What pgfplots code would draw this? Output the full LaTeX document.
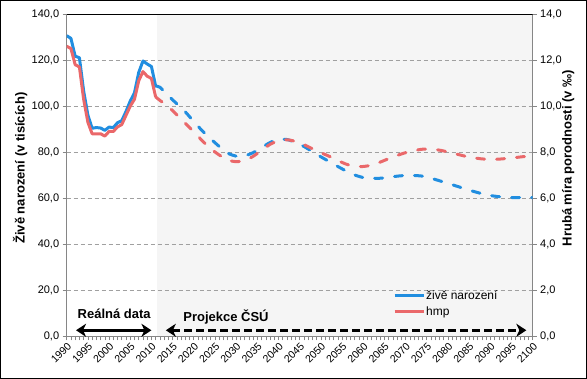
\documentclass[border=0pt]{standalone}
\usepackage{pgfplots}
\pgfplotsset{compat=1.18}
\usepackage{fontspec}
\setmainfont{Liberation Sans}
\usetikzlibrary{arrows.meta}
\definecolor{cblue}{RGB}{33,142,224}
\definecolor{cred}{RGB}{234,104,106}
\definecolor{axgray}{RGB}{134,134,134}
\definecolor{shade}{RGB}{245,245,245}
\definecolor{gridgray}{RGB}{160,160,160}

\begin{document}
\begin{tikzpicture}
\pgfplotsset{
  common/.style={
    at={(66.7pt,42.5pt)}, anchor=south west,
    scale only axis, width=466pt, height=322.5pt,
    xmin=1990, xmax=2100, ymin=0,
    /pgf/number format/assume math mode=true,
    tick align=outside, major tick length=4pt, minor tick length=4pt,
    every tick/.style={axgray, line width=0.6pt},
    axis line style={axgray, line width=0.8pt},
    yticklabel style={font=\fontsize{11}{13}\selectfont,
      /pgf/number format/.cd, fixed, fixed zerofill, precision=1, use comma},
    ylabel style={font=\fontsize{13}{15}\selectfont\bfseries, anchor=center},
  },
}
\begin{axis}[common, set layers,
  ymax=140, ytick={0,20,...,140},
  xtick={1990,1995,...,2100}, minor x tick num=4,
  xtick pos=bottom, ytick pos=left,
  xticklabel style={rotate=45, anchor=north east, inner sep=1pt,
    font=\fontsize{10.5}{12}\selectfont,
    /pgf/number format/.cd, 1000 sep={}},
  ymajorgrids, grid style={gridgray, line width=0.6pt, dash pattern=on 4pt off 3pt},
  ylabel={Živě narození (v tisících)},
  ylabel style={at={(axis description cs:-0.1,0.522)}},
]
\addplot[draw=none, fill=shade, on layer=axis background, forget plot]
  coordinates {(2011.4,140) (2100,140)} \closedcycle;
% live births, real data
\addplot[cblue, line width=3pt, line join=round, forget plot] coordinates {
(1990,130.6) (1991,129.4) (1992,121.7) (1993,121.0) (1994,106.6) (1995,96.1)
(1996,90.4) (1997,90.7) (1998,90.5) (1999,89.5) (2000,90.9) (2001,90.7)
(2002,92.8) (2003,93.7) (2004,97.7) (2005,102.2) (2006,105.8) (2007,114.6)
(2008,119.6) (2009,118.3) (2010,117.2) (2011,108.7)};
% live births, projection
\addplot[cblue, line width=3pt, line cap=round, dash pattern=on 8pt off 12pt, smooth, tension=0.4, forget plot] coordinates {
(2011,108.7) (2012,108.2) (2014,104.5) (2016,101.0) (2018,97.5) (2020,93.3)
(2022,89.3) (2024,85.8) (2026,82.5) (2028,79.6) (2030,78.3) (2032,78.4)
(2034,79.8) (2036,82.0) (2038,84.2) (2040,85.6) (2042,85.5) (2044,84.3)
(2046,82.5) (2048,80.2) (2050,78.0) (2052,75.9) (2054,73.8) (2056,71.8)
(2058,70.1) (2060,69.0) (2062,68.7) (2064,68.7) (2066,69.1) (2068,69.6)
(2070,69.9) (2072,69.9) (2074,69.6) (2076,68.7) (2078,67.6) (2080,66.5)
(2082,65.3) (2084,64.1) (2086,63.0) (2088,62.0) (2090,61.2) (2092,60.7)
(2094,60.4) (2096,60.3) (2098,60.3) (2100,60.3)};
\draw[black, line width=0.8pt] (rel axis cs:0,1) -- (rel axis cs:1,1);
\draw[black, line width=2.6pt, {Stealth[length=10pt,width=13pt,inset=3pt]}-{Stealth[length=10pt,width=13pt,inset=3pt]}]
  (axis cs:1992.2,2.7) -- (axis cs:2010.0,2.7);
\draw[black, line width=2.6pt, dash pattern=on 8pt off 4pt, {Stealth[length=10pt,width=13pt,inset=3pt]}-{Stealth[length=10pt,width=13pt,inset=3pt]}]
  (axis cs:2013.4,2.7) -- (axis cs:2098.5,2.7);
\node[anchor=base, font=\fontsize{13}{15}\selectfont\bfseries] at (axis cs:2001.2,8.0) {Reálná data};
\node[anchor=base, font=\fontsize{13}{15}\selectfont\bfseries] at (axis cs:2027.6,6.6) {Projekce ČSÚ};
\end{axis}
\begin{axis}[common, set layers,
  ymax=14, ytick={0,2,...,14},
  axis y line*=right, hide x axis,
  ylabel={Hrubá míra porodnosti (v ‰)},
  ylabel style={at={(axis description cs:1.076,0.553)}},
  legend image code/.code={\draw[#1] (0pt,0pt) -- (29pt,0pt);},
  legend style={draw=none, fill=none, at={(axis description cs:0.70,0.147)},
    anchor=north west, inner sep=0pt, row sep=4pt,
    font=\fontsize{12}{14}\selectfont, nodes={inner sep=1pt}},
  legend cell align=left,
]
\addlegendimage{cblue, line width=3pt}
\addlegendentry{živě narození}
\addlegendimage{cred, line width=3pt}
\addlegendentry{hmp}
% crude birth rate, real data
\addplot[cred, line width=3pt, line join=round, forget plot] coordinates {
(1990,12.6) (1991,12.5) (1992,11.8) (1993,11.7) (1994,10.3) (1995,9.3)
(1996,8.8) (1997,8.8) (1998,8.8) (1999,8.7) (2000,8.9) (2001,8.9)
(2002,9.1) (2003,9.2) (2004,9.6) (2005,10.0) (2006,10.3) (2007,11.1)
(2008,11.5) (2009,11.3) (2010,11.2) (2011,10.4)};
% crude birth rate, projection
\addplot[cred, line width=3pt, line cap=round, dash pattern=on 8pt off 12pt, smooth, tension=0.4, forget plot] coordinates {
(2011,10.40) (2012,10.25) (2014,9.98) (2016,9.62) (2018,9.25) (2020,8.88)
(2022,8.50) (2024,8.15) (2026,7.88) (2028,7.66) (2030,7.59) (2032,7.64)
(2034,7.82) (2036,8.08) (2038,8.34) (2040,8.50) (2042,8.54) (2044,8.47)
(2046,8.33) (2048,8.15) (2050,7.98) (2052,7.82) (2054,7.64) (2056,7.48)
(2058,7.39) (2060,7.38) (2062,7.44) (2064,7.57) (2066,7.72) (2068,7.86)
(2070,7.98) (2072,8.07) (2074,8.13) (2076,8.13) (2078,8.09) (2080,8.01)
(2082,7.92) (2084,7.83) (2086,7.76) (2088,7.71) (2090,7.69) (2092,7.70)
(2094,7.73) (2096,7.77) (2098,7.81) (2100,7.82)};
\end{axis}
\pgfresetboundingbox
\useasboundingbox (0,0) rectangle (587pt,379pt);
\draw[black, line width=0.8pt] (0.4pt,0.4pt) rectangle (586.6pt,378.6pt);
\end{tikzpicture}
\end{document}
